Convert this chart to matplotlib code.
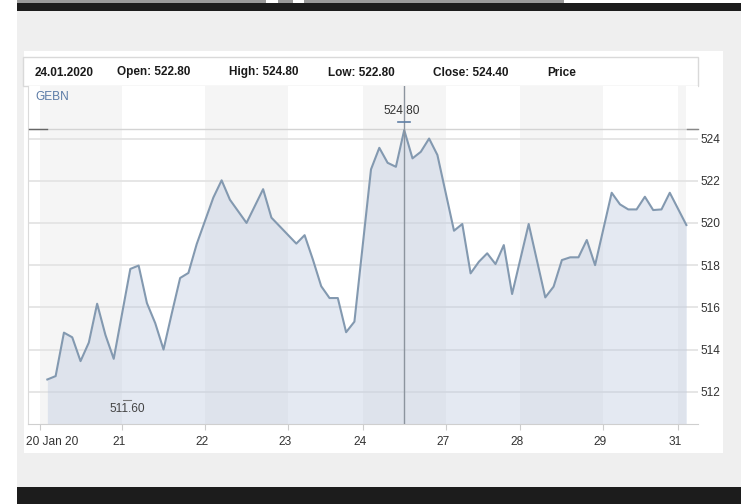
import matplotlib
matplotlib.use("Agg")
import matplotlib.pyplot as plt
import matplotlib.transforms as mtransforms
from matplotlib import font_manager
from matplotlib.patches import Rectangle

W, H = 741, 504

# intraday GEBN price, one slot per point, empty slot at every day break
t_index = [0, 1, 2, 3, 4, 5, 6, 7, 8,
           10, 11, 12, 13, 14, 15, 16, 17, 18,
           20, 21, 22, 24, 25, 26, 27,
           30, 31, 32, 33, 34, 35, 36, 37,
           39, 40, 41, 42, 43, 44, 45, 46, 47,
           49, 50, 51, 52, 53, 54, 55, 56,
           58, 60, 61, 62, 63, 64, 65, 66,
           68, 69, 70, 71, 72, 73, 74, 75,
           77]
price = [512.58, 512.74, 514.80, 514.58, 513.45, 514.33, 516.17, 514.69, 513.56,
         517.82, 517.98, 516.20, 515.25, 514.00, 515.72, 517.39, 517.63, 519.00,
         521.20, 522.02, 521.10, 520.00, 520.80, 521.60, 520.25,
         519.02, 519.42, 518.26, 517.00, 516.44, 516.44, 514.82, 515.32,
         522.54, 523.56, 522.85, 522.66, 524.40, 523.06, 523.37, 524.00, 523.22,
         519.63, 519.95, 517.61, 518.16, 518.56, 518.05, 518.95, 516.63,
         519.95, 516.47, 516.98, 518.24, 518.37, 518.37, 519.19, 518.00,
         521.43, 520.88, 520.64, 520.64, 521.24, 520.61, 520.64, 521.43,
         519.90]

day_starts = [-0.9, 9, 19, 29, 38, 48, 57, 67, 76]
data_end = 77
day_labels = ["20 Jan 20", "21", "22", "23", "24", "27", "28", "29", "31"]
y_ticks = [512, 514, 516, 518, 520, 522, 524]

header_texts = ["24.01.2020", "Open: 522.80", "High: 524.80", "Low: 522.80",
                "Close: 524.40", "Price"]
header_px = [35, 117, 229, 328, 433, 547]

hover_idx = 43
hover_high = 524.80
hover_level = 524.45
low_idx = 9.6
low_value = 511.60

names = {f.name for f in font_manager.fontManager.ttflist}
narrow = "Liberation Sans Narrow" if "Liberation Sans Narrow" in names else "Liberation Sans"
plt.rcParams["font.family"] = [narrow, "DejaVu Sans"]
small = 9.5 if narrow.endswith("Narrow") else 8.6
head = 9.7 if narrow.endswith("Narrow") else 8.5


def box(x0, y0, x1, y1, **kw):
    # rectangle given in pixel coords measured from the top-left corner
    return Rectangle((x0 / W, 1 - y1 / H), (x1 - x0) / W, (y1 - y0) / H,
                     transform=fig.transFigure, zorder=-5, **kw)


fig = plt.figure(figsize=(W / 100, H / 100), dpi=100)
fig.patch.set_facecolor("white")

# page furniture
fig.patches.append(box(17, 0, 564, 3, facecolor="#9a9a9a", lw=0))
fig.patches.append(box(266, 0, 278, 3, facecolor="white", lw=0))
fig.patches.append(box(293, 0, 304, 3, facecolor="white", lw=0))
fig.patches.append(box(17, 3, 741, 11, facecolor="#1c1c1c", lw=0))
fig.patches.append(box(17, 11, 741, 487, facecolor="#efefef", lw=0))
fig.patches.append(box(24, 51, 723, 453, facecolor="white", lw=0))
fig.patches.append(box(17, 487, 741, 504, facecolor="#1c1c1c", lw=0))
fig.patches.append(box(23, 57, 698, 86, facecolor="white", edgecolor="#d9d9d9", lw=1))

for txt, xp in zip(header_texts, header_px):
    fig.text(xp / W, 1 - 75.5 / H, txt, fontsize=head, fontweight="bold",
             color="#1a1a1a", va="baseline")

ax = fig.add_axes([28 / W, 1 - 424 / H, 670 / W, 338 / H])
ax.set_xlim(-2.33, 78.4)
ax.set_ylim(510.47, 526.49)
ax.set_facecolor("white")
for s in ("top", "right"):
    ax.spines[s].set_visible(False)
ax.spines["left"].set_color("#dadada")
ax.spines["bottom"].set_color("#cfcfcf")

# alternate day shading
edges = day_starts + [data_end]
for k in range(len(edges) - 1):
    if k % 2 == 0:
        ax.axvspan(edges[k], edges[k + 1], color="#f5f5f5", lw=0, zorder=0)

for v in y_ticks:
    ax.axhline(v, color="#e2e2e2", lw=1.2, zorder=1)

ax.fill_between(t_index, price, 510.47, color="#bac7df", alpha=0.38, lw=0, zorder=2)
ax.plot(t_index, price, color="#8399b0", lw=1.5, zorder=3)

# hover crosshair
ax.axvline(hover_idx, color="#8c949e", lw=1, zorder=4)
ax.axhline(hover_level, color="#d3d3d3", lw=1, zorder=1)
ax.plot([-2.2, 0], [hover_level] * 2, color="#666666", lw=1, zorder=4)
ax.plot([77.05, 78.4], [hover_level] * 2, color="#888888", lw=1, zorder=4, clip_on=False)
ax.plot([hover_idx - 0.72, hover_idx + 0.72], [hover_high] * 2, color="#5f7fa5", lw=1.2, zorder=5)
ax.annotate(f"{hover_high:.2f}", (hover_idx, hover_high), xytext=(-1.5, 3),
            textcoords="offset points", ha="center", va="bottom", fontsize=small, color="#333333")

ax.plot([low_idx - 0.5, low_idx + 0.5], [low_value] * 2, color="#777777", lw=0.8, zorder=5)
ax.annotate(f"{low_value:.2f}", (low_idx, low_value), xytext=(0, -2),
            textcoords="offset points", ha="center", va="top", fontsize=small, color="#444444")

ax.text(35 / W, 1 - 97 / H, "GEBN", transform=fig.transFigure, fontsize=small,
        color="#5a7aa6", va="center")

ax.yaxis.tick_right()
ax.set_yticks(y_ticks)
ax.tick_params(axis="y", length=0, pad=2, labelsize=small, labelcolor="#333333")

ax.set_xticks(day_starts)
ax.tick_params(axis="x", length=4.5, color="#cccccc", labelbottom=False)
for i, (xv, lbl) in enumerate(zip(day_starts, day_labels)):
    dx = -14 if i == 0 else -3
    tr = ax.get_xaxis_transform() + mtransforms.ScaledTranslation(dx / 100, -18 / 100, fig.dpi_scale_trans)
    ax.text(xv, 0, lbl, transform=tr, ha="left" if i == 0 else "center", va="center",
            fontsize=small, color="#333333")

fig.savefig("out.png", dpi=100)
